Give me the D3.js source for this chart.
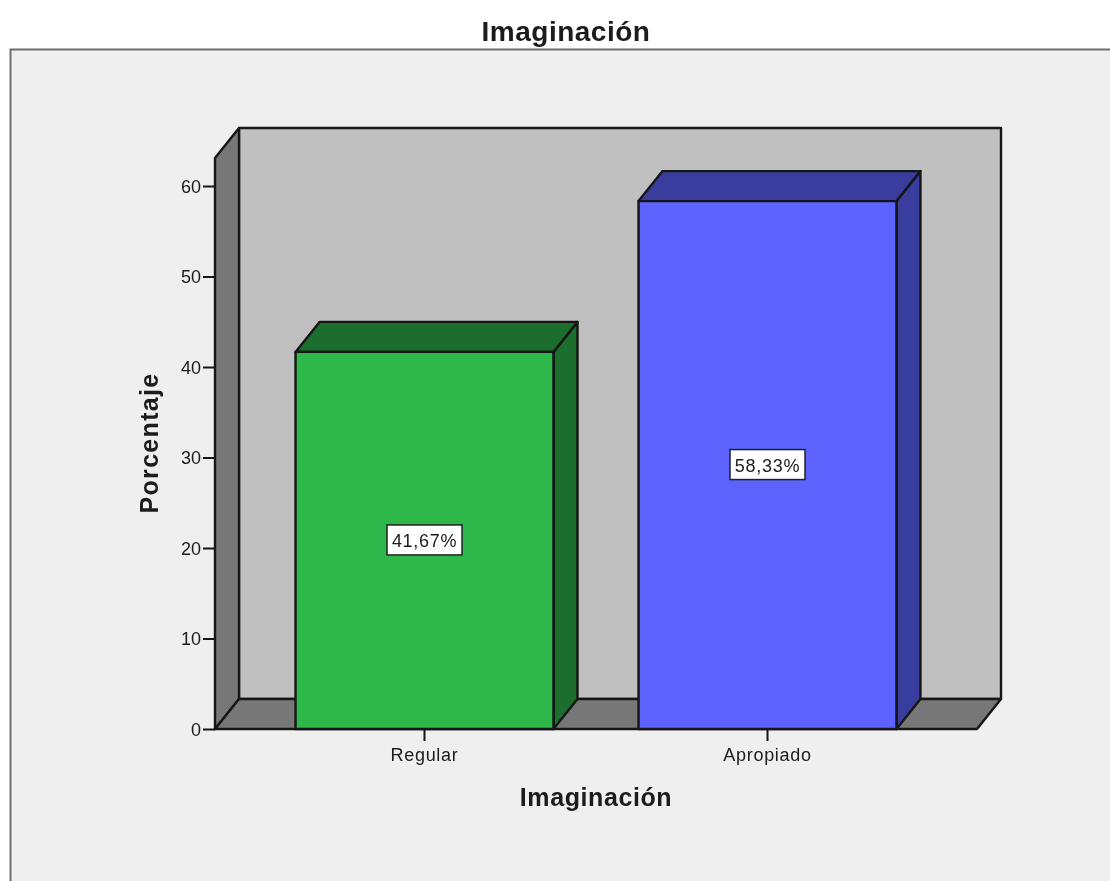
<!DOCTYPE html>
<html><head><meta charset="utf-8">
<style>html,body{margin:0;padding:0;background:#fff}svg{display:block}text{font-family:"Liberation Sans",Arial,sans-serif;fill:#1a1a1a}</style>
<script src="https://cdn.jsdelivr.net/npm/d3@7"></script></head>
<body><script>
const titleText = "Imaginación";
const xTitle = "Imaginación";
const yTitle = "Porcentaje";
const categories = ["Regular", "Apropiado"];
const values = [41.67, 58.33];
const valueLabels = ["41,67%", "58,33%"];
const yTicks = [0, 10, 20, 30, 40, 50, 60];
const faceColors = ["#2fb84a", "#5c64ff"];
const sideColors = ["#1d6e2d", "#383c9e"];

const W = 1110, H = 881, dx = 24, dy = 30;
const root = d3.select("body").append("svg").attr("width", W).attr("height", H);
root.append("defs").append("filter").attr("id", "soft").attr("x", 0).attr("y", 0).attr("width", 1).attr("height", 1)
  .append("feGaussianBlur").attr("stdDeviation", 0.45);
const svg = root.append("g").attr("filter", "url(#soft)");
svg.append("rect").attr("width", W).attr("height", H).attr("fill", "#fff");
const y = d3.scaleLinear().domain([0, 60]).range([729, 186]);
const x = d3.scaleBand().domain(categories).range([215, 977]).paddingInner(0.248).paddingOuter(0.2348);
const line = "#141414";
const poly = (pts, fill, sw = 2.4) => svg.append("path").attr("d", "M" + pts.map(p => p.join(",")).join("L") + "Z")
  .attr("fill", fill).attr("stroke", line).attr("stroke-width", sw).attr("stroke-linejoin", "round");

// frame
svg.append("rect").attr("x", 10.5).attr("y", 49.5).attr("width", W + 20).attr("height", H + 20)
  .attr("fill", "#efefef").attr("stroke", "#6e6e6e").attr("stroke-width", 2);

svg.append("text").attr("x", 566).attr("y", 41).attr("text-anchor", "middle")
  .attr("font-size", 28).attr("font-weight", "bold").attr("letter-spacing", 0.5).text(titleText);

// 3D walls
const x0 = x.range()[0], x1 = x.range()[1], yB = y(0), yT = 158;
poly([[x0 + dx, yT - dy], [x1 + dx, yT - dy], [x1 + dx, yB - dy], [x0 + dx, yB - dy]], "#c0c0c0");
poly([[x0, yT], [x0 + dx, yT - dy], [x0 + dx, yB - dy], [x0, yB]], "#777777");
poly([[x0, yB], [x0 + dx, yB - dy], [x1 + dx, yB - dy], [x1, yB]], "#777777");

// bars
categories.forEach((c, i) => {
  const l = x(c), r = l + x.bandwidth(), t = y(values[i]);
  poly([[r, t], [r + dx, t - dy], [r + dx, yB - dy], [r, yB]], sideColors[i]);
  poly([[l, t], [l + dx, t - dy], [r + dx, t - dy], [r, t]], sideColors[i]);
  poly([[l, t], [r, t], [r, yB], [l, yB]], faceColors[i]);
  const cx = l + x.bandwidth() / 2, cy = y(values[i] / 2) - 0.5;
  svg.append("rect").attr("x", cx - 37.5).attr("y", cy - 15).attr("width", 75).attr("height", 30)
    .attr("fill", "#fff").attr("stroke", "#222").attr("stroke-width", 1.5);
  svg.append("text").attr("x", cx).attr("y", cy + 7).attr("text-anchor", "middle")
    .attr("font-size", 18).attr("letter-spacing", 0.7).text(valueLabels[i]);
});

// axes
const yAxis = d3.axisLeft(y).tickValues(yTicks).tickSize(12).tickPadding(2).tickFormat(d3.format("d"));
const gy = svg.append("g").attr("transform", `translate(${x0},0)`).call(yAxis);
gy.select(".domain").remove();
gy.selectAll("line").attr("stroke", line).attr("stroke-width", 2);
gy.selectAll("text").attr("font-size", 18).attr("font-family", '"Liberation Sans"').attr("fill", "#1a1a1a").attr("dy", "0.36em");

const xAxis = d3.axisBottom(x).tickSize(12).tickPadding(7);
const gx = svg.append("g").attr("transform", `translate(0,${yB})`).call(xAxis);
gx.select(".domain").remove();
gx.selectAll("line").attr("stroke", line).attr("stroke-width", 2);
gx.selectAll("text").attr("font-size", 18).attr("font-family", '"Liberation Sans"').attr("fill", "#1a1a1a").attr("letter-spacing", 0.7);

svg.append("text").attr("x", 596).attr("y", 806).attr("text-anchor", "middle")
  .attr("font-size", 25).attr("font-weight", "bold").attr("letter-spacing", 0.6).text(xTitle);
svg.append("text").attr("transform", "translate(158,443) rotate(-90)").attr("text-anchor", "middle")
  .attr("font-size", 25).attr("font-weight", "bold").attr("letter-spacing", 1.3).text(yTitle);
</script></body></html>
